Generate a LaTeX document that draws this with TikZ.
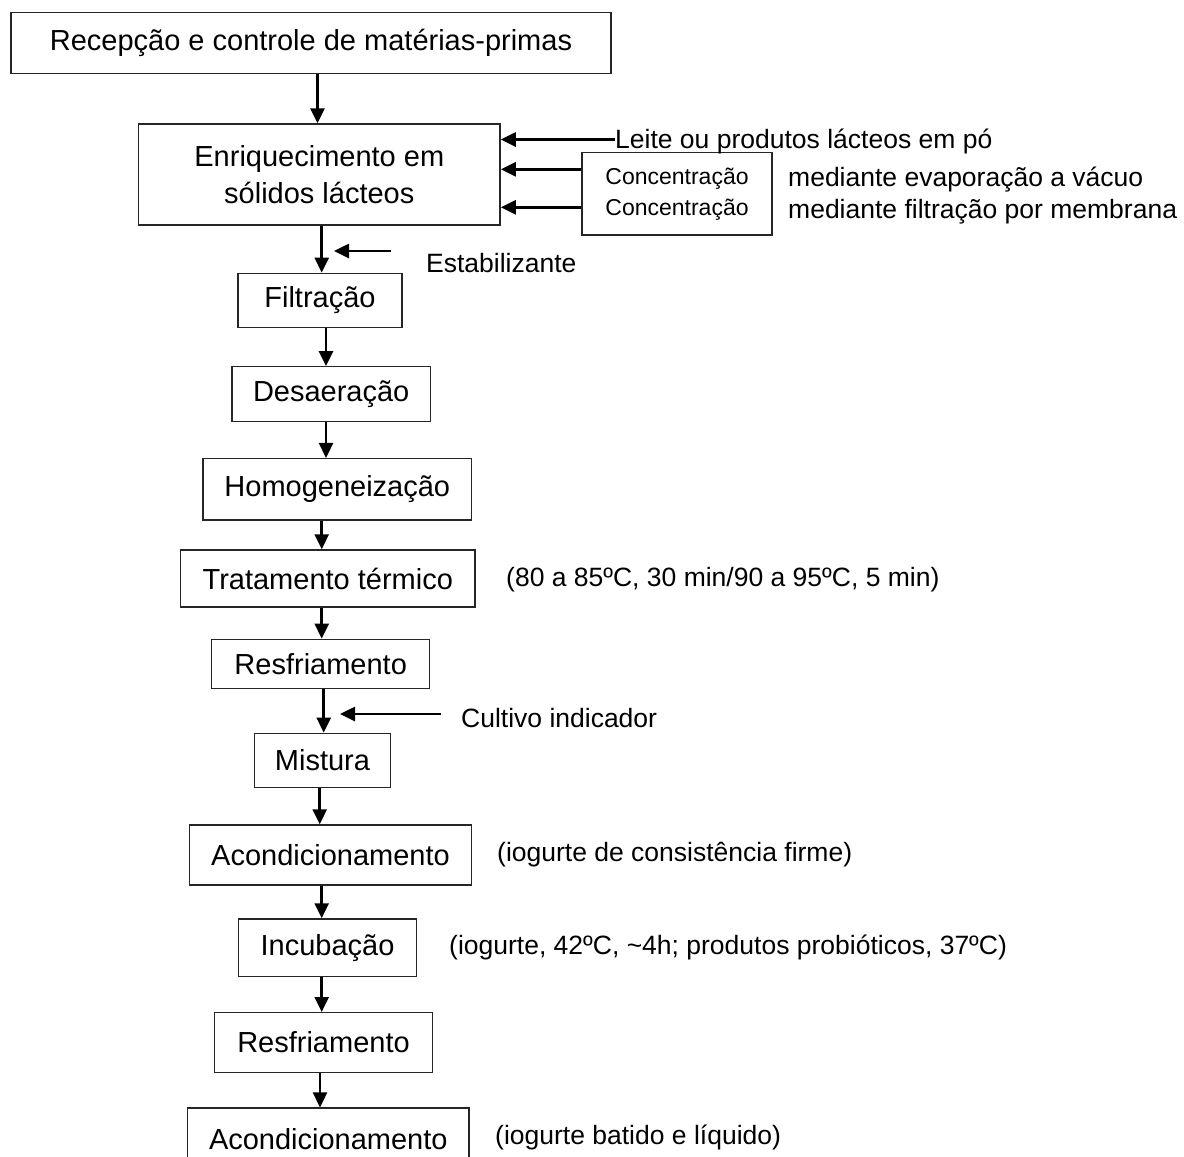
\documentclass[tikz,border=0pt]{standalone}
\usepackage{fontspec}
\setmainfont{Liberation Sans}
\usetikzlibrary{arrows.meta}
\newcommand\flowarrow[3]{\coordinate (tmpx) at (#3,0); \draw[arr] (#1.south -| tmpx) -- (#2.north -| tmpx);}
\begin{document}
\begin{tikzpicture}[x=1pt,y=-1pt,
  box/.style={draw=black!85, line width=1.4pt, inner sep=0pt, align=center,
    font=\fontsize{29}{37}\selectfont},
  lbl/.style={inner sep=0pt, anchor=west, font=\fontsize{26.5}{31}\selectfont},
  arr/.style={draw=black, line width=2.6pt, -{Triangle[length=15pt,width=14pt]}}]
\useasboundingbox (0,0) rectangle (1184,1157);
\clip (0,0) rectangle (1184,1157);
\fill[white] (0,0) rectangle (1184,1157);

% main column
\node[box, minimum width=600pt, minimum height=61pt] (b1) at (311,42.8) {Recepção e controle de matérias-primas};
\node[box, minimum width=361.5pt, minimum height=101pt] (b2) at (319.3,174.5) {Enriquecimento em\\sólidos lácteos};
\node[box, minimum width=190pt, minimum height=82.5pt, font=\fontsize{23}{31}\selectfont] (conc) at (677,193.8) {Concentração\\Concentração};
\node[box, minimum width=164pt, minimum height=54.4pt] (filt) at (320,300.5) {Filtração};
\node[box, minimum width=198.3pt, minimum height=55pt] (desa) at (331.2,394.2) {Desaeração};
\node[box, minimum width=268.7pt, minimum height=61.3pt] (homo) at (337.3,489.3) {Homogeneização};
\node[box, minimum width=294.3pt, minimum height=57pt] (trat) at (327.8,578.5) {Tratamento térmico};
\node[box, minimum width=218pt, minimum height=49pt] (resf1) at (320.7,663.8) {Resfriamento};
\node[box, minimum width=136.4pt, minimum height=54.4pt] (mist) at (322.5,760.5) {Mistura};
\node[box, minimum width=282.4pt, minimum height=60pt] (acon1) at (330.5,855) {Acondicionamento};
\node[box, minimum width=178.4pt, minimum height=57.7pt] (incu) at (327.5,947.8) {Incubação};
\node[box, minimum width=218.4pt, minimum height=59.6pt] (resf2) at (323.5,1042.5) {Resfriamento};
\node[box, minimum width=281.3pt, minimum height=61.7pt] (acon2) at (328.3,1139) {Acondicionamento};

% labels
\node[lbl] (leite) at (615,141) {Leite ou produtos lácteos em pó};
\node[lbl] (med1) at (788,180) {mediante evaporação a vácuo};
\node[lbl] (med2) at (788,212) {mediante filtração por membrana};
\node[lbl] (estab) at (426,263) {Estabilizante};
\node[lbl] (tratl) at (506,580) {(80 a 85ºC, 30 min/90 a 95ºC, 5 min)};
\node[lbl] (cult) at (461,718) {Cultivo indicador};
\node[lbl] (acon1l) at (497,855) {(iogurte de consistência firme)};
\node[lbl] (incul) at (449,947) {(iogurte, 42ºC, \textasciitilde4h; produtos probióticos, 37ºC)};
\node[lbl] (acon2l) at (495,1137) {(iogurte batido e líquido)};

% vertical flow arrows
\flowarrow{b1}{b2}{317.5}
\flowarrow{b2}{filt}{321.7}
\flowarrow{filt}{desa}{326}
\flowarrow{desa}{homo}{326}
\flowarrow{homo}{trat}{321.7}
\flowarrow{trat}{resf1}{321.7}
\flowarrow{resf1}{mist}{323.7}
\flowarrow{mist}{acon1}{319.7}
\flowarrow{acon1}{incu}{321.7}
\flowarrow{incu}{resf2}{321.7}
\flowarrow{resf2}{acon2}{320}

% side inputs
\coordinate (yl) at (0,139.5);
\coordinate (yc1) at (0,169.3);
\coordinate (yc2) at (0,207.3);
\draw[arr] (leite.west |- yl) -- (b2.east |- yl);
\draw[arr] (conc.west |- yc1) -- (b2.east |- yc1);
\draw[arr] (conc.west |- yc2) -- (b2.east |- yc2);

\coordinate (estS) at (390.7,251);
\coordinate (estE) at (334,251);
\draw[arr] (estS) -- (estE);
\coordinate (culS) at (441,714);
\coordinate (culE) at (340,714);
\draw[arr] (culS) -- (culE);
\end{tikzpicture}
\end{document}
